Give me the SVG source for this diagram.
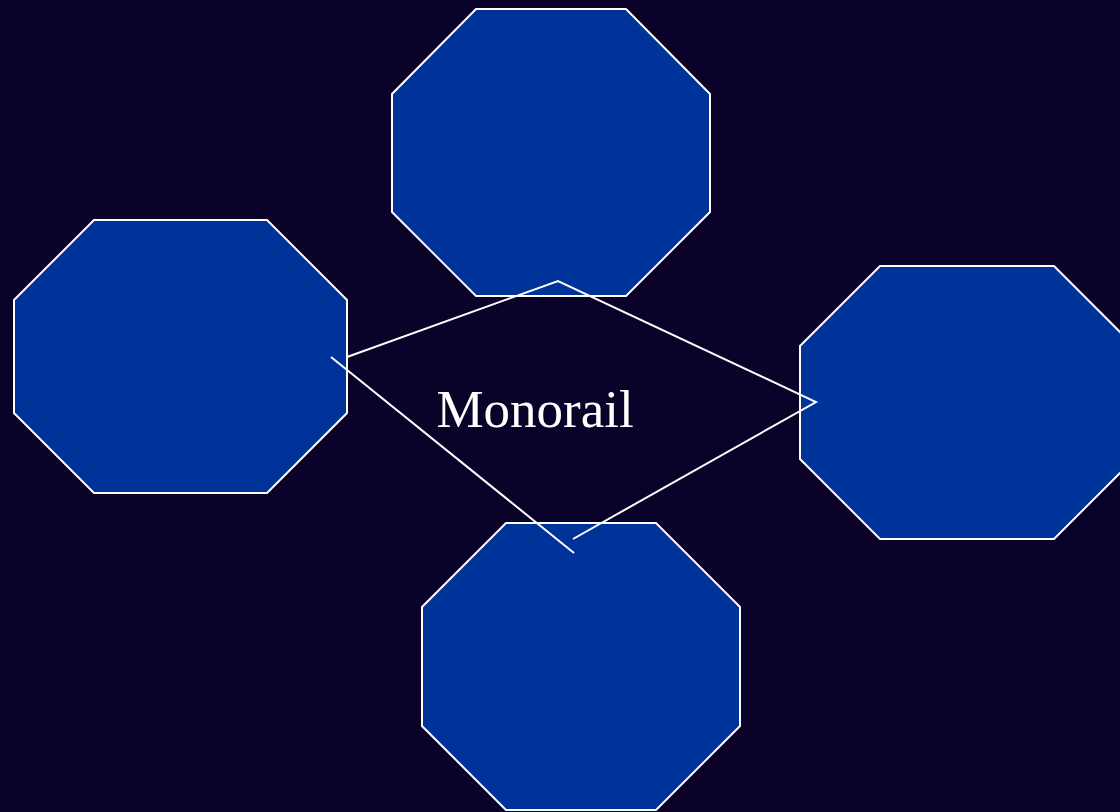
<svg xmlns="http://www.w3.org/2000/svg" width="1120" height="812" viewBox="0 0 1120 812">
<style>
.oct{fill:#003399;stroke:#ffffff;stroke-width:2}
.con{fill:none;stroke:#ffffff;stroke-width:2}
.lbl{font-family:"Liberation Serif",serif;font-size:53px;fill:#ffffff}
</style>
<rect width="1120" height="812" fill="#0a0228"/>
<g id="node-top"><polygon class="oct" points="476,9 626,9 710,94 710,212 626,296 476,296 392,212 392,94"/></g>
<g id="node-left"><polygon class="oct" points="94,220 267,220 347,300 347,413 267,493 94,493 14,413 14,300"/></g>
<g id="node-right"><polygon class="oct" points="880,266 1054,266 1134,346 1134,459 1054,539 880,539 800,459 800,346"/></g>
<g id="node-bottom"><polygon class="oct" points="506,523 656,523 740,607 740,726 656,810 506,810 422,726 422,607"/></g>
<g id="connectors">
<path class="con" d="M347,357 L558,281 L816,402 L573,539"/>
<path class="con" d="M331,357 L574,553"/>
</g>
<text class="lbl" x="535" y="427" text-anchor="middle">Monorail</text>
</svg>
